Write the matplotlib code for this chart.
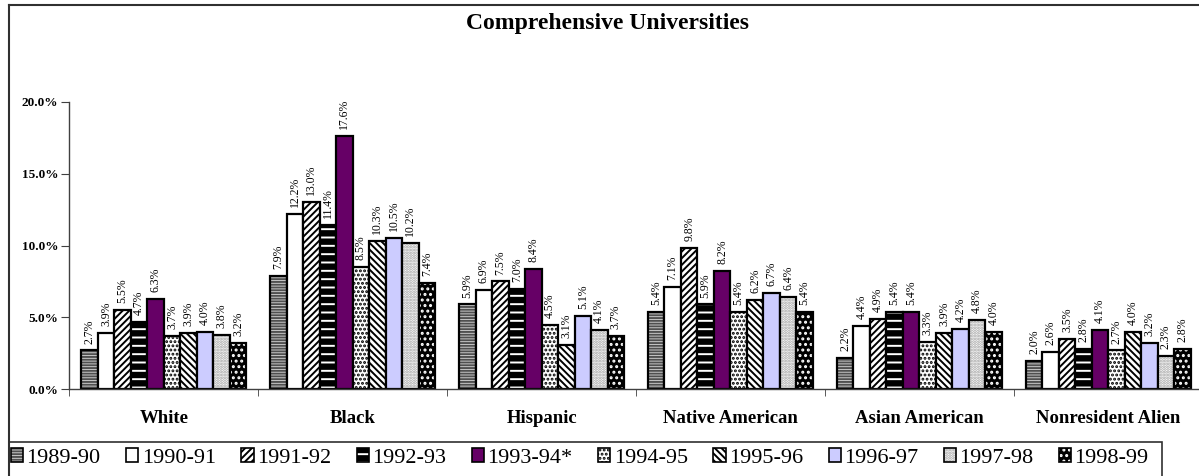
import matplotlib
matplotlib.use("Agg")
import matplotlib.pyplot as plt
from matplotlib.patches import Patch, Rectangle
from matplotlib.lines import Line2D
from matplotlib.legend_handler import HandlerTuple

plt.rcParams['font.family'] = ['Liberation Serif', 'DejaVu Serif']
plt.rcParams['hatch.linewidth'] = 1.4

groups = ["White", "Black", "Hispanic", "Native American", "Asian American", "Nonresident Alien"]
years = ["1989-90", "1990-91", "1991-92", "1992-93", "1993-94*",
         "1994-95", "1995-96", "1996-97", "1997-98", "1998-99"]

white = [2.7, 3.9, 5.5, 4.7, 6.3, 3.7, 3.9, 4.0, 3.8, 3.2]
black = [7.9, 12.2, 13.0, 11.4, 17.6, 8.5, 10.3, 10.5, 10.2, 7.4]
hispanic = [5.9, 6.9, 7.5, 7.0, 8.4, 4.5, 3.1, 5.1, 4.1, 3.7]
native_american = [5.4, 7.1, 9.8, 5.9, 8.2, 5.4, 6.2, 6.7, 6.4, 5.4]
asian_american = [2.2, 4.4, 4.9, 5.4, 5.4, 3.3, 3.9, 4.2, 4.8, 4.0]
nonresident_alien = [2.0, 2.6, 3.5, 2.8, 4.1, 2.7, 4.0, 3.2, 2.3, 2.8]
table = [white, black, hispanic, native_american, asian_american, nonresident_alien]

yticks = [0, 5, 10, 15, 20]

# fill, hatch, hatch colour for each year
styles = [
    ("#d8d8d8", "------", "#505050"),
    ("white", None, "black"),
    ("white", "/////", "black"),
    ("black", "--", "white"),
    ("#660066", None, "black"),
    ("white", "....", "black"),
    ("white", "\\\\\\\\\\", "black"),
    ("#ccccff", None, "black"),
    ("white", "......", "#a0a0a0"),
    ("black", "...", "white"),
]

W, H = 1199, 476
fig = plt.figure(figsize=(W / 100, H / 100), dpi=100)

def fx(x):
    return x / W

def fy(y):
    return 1 - y / H

ax = fig.add_axes([fx(69.3), fy(389.3), fx(1202.7) - fx(69.3), fy(101.7) - fy(389.3)])

bw = 0.0873
for j, year in enumerate(years):
    xs = [i + 0.5 + (j - 4.5) * bw for i in range(len(groups))]
    vals = [row[j] for row in table]
    face, hatch, hc = styles[j]
    ax.bar(xs, vals, bw, color=face, edgecolor=hc, hatch=hatch, linewidth=0)
    ax.bar(xs, vals, bw, fill=False, edgecolor="black", linewidth=1.6)
    for x, v in zip(xs, vals):
        ax.annotate(f"{v:.1f}%", (x, v), xytext=(0, 5), textcoords="offset points",
                    rotation=90, ha="center", va="bottom", fontsize=8.5,
                    annotation_clip=False)

ax.set_xlim(0, len(groups))
ax.set_ylim(0, 20)
ax.set_yticks(yticks)
ax.set_yticklabels([f"{t:.1f}%" for t in yticks], fontsize=9.5, fontweight="bold")
ax.set_xticks([i + 0.5 for i in range(len(groups))])
ax.set_xticklabels(groups, fontsize=13.5, fontweight="bold")
ax.set_xticks(range(len(groups) + 1), minor=True)
ax.tick_params(axis="x", which="major", length=0, pad=15)
ax.tick_params(axis="x", which="minor", length=5, direction="out", color="#404040")
ax.tick_params(axis="y", length=6, direction="out", color="#404040", pad=2)
for s in ["top", "right"]:
    ax.spines[s].set_visible(False)
for s in ["left", "bottom"]:
    ax.spines[s].set_color("#404040")
    ax.spines[s].set_linewidth(1.0)

fig.text(fx(608), fy(24), "Comprehensive Universities", fontsize=17,
         fontweight="bold", ha="center", va="center")

# chart area border and legend box
fig.add_artist(Line2D([fx(9), 1.0], [fy(5), fy(5)], color="#303030", lw=1.5))
fig.add_artist(Line2D([fx(9), fx(9)], [fy(5), 0], color="#303030", lw=1.5))
fig.add_artist(Rectangle((fx(9), fy(490)), fx(1162) - fx(9), fy(442) - fy(490),
                         fill=False, edgecolor="#303030", lw=1.2, clip_on=False))

handles = []
for face, hatch, hc in styles:
    p1 = Patch(facecolor=face, edgecolor=hc, hatch=hatch, linewidth=0)
    p2 = Patch(fill=False, edgecolor="black", linewidth=1.2)
    handles.append((p1, p2))
fig.legend(handles, years, handler_map={tuple: HandlerTuple(ndivide=1)},
           loc="center left", bbox_to_anchor=(fx(11), fy(458)), ncol=10,
           frameon=False, fontsize=16, handlelength=0.55, handleheight=0.55,
           handletextpad=0.15, columnspacing=1.15, borderpad=0, borderaxespad=0)

fig.savefig("out.png", dpi=100)
